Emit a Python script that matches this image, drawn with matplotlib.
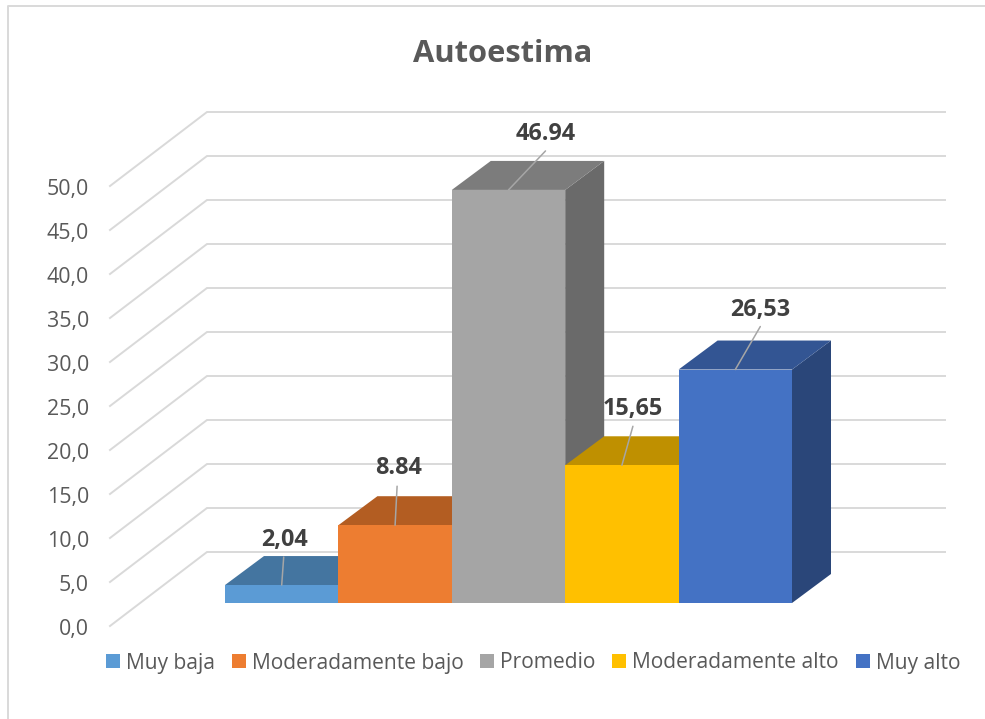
#!/usr/bin/env python3
import matplotlib
matplotlib.use("Agg")
import matplotlib.pyplot as plt
from matplotlib.patches import Patch, Polygon

categories = ["Muy baja", "Moderadamente bajo", "Promedio", "Moderadamente alto", "Muy alto"]
values = [2.04, 8.84, 46.94, 15.65, 26.53]
value_labels = ["2,04", "8.84", "46.94", "15,65", "26,53"]
axis_ticks = [0, 5, 10, 15, 20, 25, 30, 35, 40, 45, 50]

front_colors = ["#5B9BD5", "#ED7D31", "#A5A5A5", "#FFC000", "#4472C4"]
top_colors = ["#4475A0", "#B35D22", "#7C7C7C", "#BF9000", "#335593"]
side_colors = ["#365D80", "#8E4A1D", "#6A6A6A", "#997300", "#2A4679"]

# label centre and leader end, pixels relative to the middle of each bar's top edge
label_offsets = [(3, 45), (3, 57), (37, 56), (11, 56), (25, 60)]
leader_offsets = [(2, 28), (2, 39), (37, 39), (11, 39), (25, 43)]

W, H = 985, 719
BAR_W = 113.4   # px per category
UNIT = 8.8      # px per value unit
BAR_LEFT = 225
BAR_BASE = 603

plt.rcParams["font.family"] = ["Open Sans", "DejaVu Sans"]

fig = plt.figure(figsize=(W/100, H/100), dpi=100)
ax = fig.add_axes([0, 0, 1, 1])
ax.set_xlim(-BAR_LEFT/BAR_W - 0.5, (W - BAR_LEFT)/BAR_W - 0.5)
ax.set_ylim((BAR_BASE - H)/UNIT, BAR_BASE/UNIT)
ax.axis("off")


def xpx(px):
    return (px - BAR_LEFT)/BAR_W - 0.5


def ypx(px):
    return (BAR_BASE - px)/UNIT


# chart frame, right and bottom edges are cut off in the picture
ax.plot([xpx(W), xpx(7.5), xpx(7.5)], [ypx(6.5), ypx(6.5), ypx(H)],
        color="#D9D9D9", lw=1.4, zorder=1)

# gridlines: side wall then back wall
front_x, back_x, right_x = xpx(110), xpx(207), xpx(945)
front_dy = ypx(626)
back_dy = ypx(552)
for tick in axis_ticks:
    ax.plot([front_x, back_x, right_x],
            [tick + front_dy, tick + back_dy, tick + back_dy],
            color="#D9D9D9", lw=1.4, zorder=1, solid_joinstyle="miter")
    ax.text(xpx(89), tick + front_dy - 0.4, ("%.1f" % tick).replace(".", ","),
            ha="right", va="center", fontsize=15.4, color="#595959")

# columns, left to right so each one hides what is behind it
DX = 39/BAR_W
DY = 29/UNIT
for i, v in enumerate(values):
    l, r = i - 0.5, i + 0.5
    ax.add_patch(Polygon([(r, 0), (r + DX, DY), (r + DX, v + DY), (r, v)],
                         facecolor=side_colors[i], edgecolor="none", zorder=2 + i))
    ax.add_patch(Polygon([(l, v), (l + DX, v + DY), (r + DX, v + DY), (r, v)],
                         facecolor=top_colors[i], edgecolor="none", zorder=2 + i))
    ax.bar(i, v, width=1, color=front_colors[i], zorder=2 + i)

for i, v in enumerate(values):
    ax.annotate("", xy=(i, v), xytext=leader_offsets[i], textcoords="offset pixels",
                arrowprops=dict(arrowstyle="-", color="#A6A6A6", lw=1.1,
                                shrinkA=0, shrinkB=0), zorder=10)
    ax.annotate(value_labels[i], xy=(i, v), xytext=label_offsets[i], textcoords="offset pixels",
                ha="center", va="center", fontsize=16.8, fontweight="bold",
                color="#404040", zorder=11)

ax.text(xpx(503), ypx(54), "Autoestima", ha="center", va="center",
        fontsize=22.2, fontweight="bold", color="#595959")

handles = [Patch(facecolor=c, edgecolor="none", label=n) for c, n in zip(front_colors, categories)]
ax.legend(handles=handles, ncol=5, loc="center", bbox_to_anchor=(533/W, 1 - 663/H),
          frameon=False, fontsize=15.15, handlelength=0.66, handleheight=0.66,
          handletextpad=0.29, columnspacing=0.8, labelcolor="#595959",
          borderpad=0, borderaxespad=0)

fig.savefig("out.png", dpi=100, facecolor="white")
